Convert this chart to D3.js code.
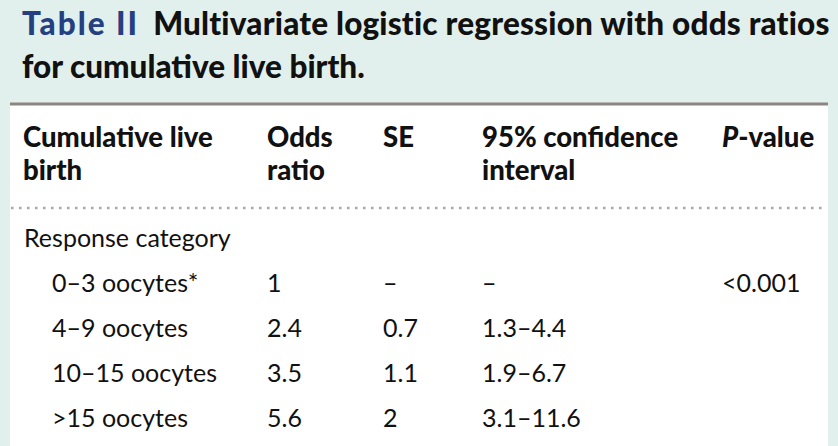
<!DOCTYPE html>
<html>
<head>
<meta charset="utf-8">
<script src="https://cdn.jsdelivr.net/npm/d3@7"></script>
<style>
  body { margin: 0; background: #e1f0ec; }
  svg { display: block; font-family: "Lato", "Open Sans", sans-serif; }
</style>
</head>
<body>
<div id="table"></div>
<script>
// table content
var titleLabel = "Table II";
var titleLines = ["Multivariate logistic regression with odds ratios", "for cumulative live birth."];
var columns = ["label", "odds", "se", "ci", "p"];
var headerLines = [
    ["Cumulative live", "birth"],
    ["Odds", "ratio"],
    ["SE"],
    ["95% confidence", "interval"],
    ["P-value"]
];
var groupLabel = "Response category";
var categories = ["0\u20133 oocytes*", "4\u20139 oocytes", "10\u201315 oocytes", ">15 oocytes"];
var oddsRatios = ["1", "2.4", "3.5", "5.6"];
var standardErrors = ["\u2013", "0.7", "1.1", "2"];
var confIntervals = ["\u2013", "1.3\u20134.4", "1.9\u20136.7", "3.1\u201311.6"];
var pValues = ["<0.001", "", "", ""];

var width = 838, height = 446;

var svg = d3.select("#table")
    .append("svg")
    .attr("width", width)
    .attr("height", height);

// background
svg.append("rect")
    .attr("width", width).attr("height", height)
    .attr("fill", "#e1f0ec");

// white panel under the title
svg.append("rect")
    .attr("x", 10).attr("y", 104)
    .attr("width", 818).attr("height", height - 104)
    .attr("fill", "#ffffff");

svg.append("line")
    .attr("x1", 10).attr("x2", 828)
    .attr("y1", 104).attr("y2", 104)
    .attr("stroke", "#8b8682")
    .attr("stroke-width", 3);

// title
var title = svg.append("text")
    .attr("x", 22).attr("y", 35)
    .attr("font-size", 31.5)
    .attr("font-weight", 900);
title.append("tspan").attr("fill", "#263f82").attr("letter-spacing", 2).text(titleLabel);
title.append("tspan").attr("fill", "#111").attr("dx", 14).attr("letter-spacing", 0.2).text(titleLines[0]);

svg.append("text")
    .attr("x", 22).attr("y", 78)
    .attr("font-size", 31.5)
    .attr("font-weight", 900)
    .attr("fill", "#111")
    .text(titleLines[1]);

// column scale
var x = d3.scaleOrdinal()
    .domain(columns)
    .range([23, 267, 383, 482, 722]);

// header
var header = svg.append("g").attr("class", "header");
columns.forEach(function (c, i) {
    var t = header.append("text")
        .attr("x", x(c))
        .attr("y", 147)
        .attr("font-size", 27.5)
        .attr("font-weight", 900)
        .attr("fill", "#111");
    headerLines[i].forEach(function (line, j) {
        var span = t.append("tspan")
            .attr("x", x(c))
            .attr("dy", j === 0 ? 0 : 33);
        if (line === "P-value") {
            span.append("tspan").attr("font-style", "italic").text("P");
            span.append("tspan").text("-value");
        } else {
            span.text(line);
        }
    });
});

// dotted separator
svg.append("line")
    .attr("x1", 11).attr("x2", 826)
    .attr("y1", 208).attr("y2", 208)
    .attr("stroke", "#a8a8a8")
    .attr("stroke-width", 2.5)
    .attr("stroke-dasharray", "2.5,5.5");

// rows
var rowKeys = [groupLabel].concat(categories);
var y = d3.scalePoint()
    .domain(rowKeys)
    .range([247, 427]);

svg.append("text")
    .attr("x", x("label") + 1)
    .attr("y", y(groupLabel))
    .attr("font-size", 25)
    .attr("fill", "#111")
    .text(groupLabel);

var rows = categories.map(function (c, i) {
    return { label: c, odds: oddsRatios[i], se: standardErrors[i], ci: confIntervals[i], p: pValues[i] };
});

var rowG = svg.selectAll("g.row")
    .data(rows)
    .enter().append("g")
    .attr("class", "row")
    .attr("transform", function (d) { return "translate(0," + y(d.label) + ")"; });

columns.forEach(function (c) {
    rowG.append("text")
        .attr("x", c === "label" ? x(c) + 29 : x(c))
        .attr("font-size", 25)
        .attr("fill", "#111")
        .text(function (d) { return d[c]; });
});
</script>
</body>
</html>
